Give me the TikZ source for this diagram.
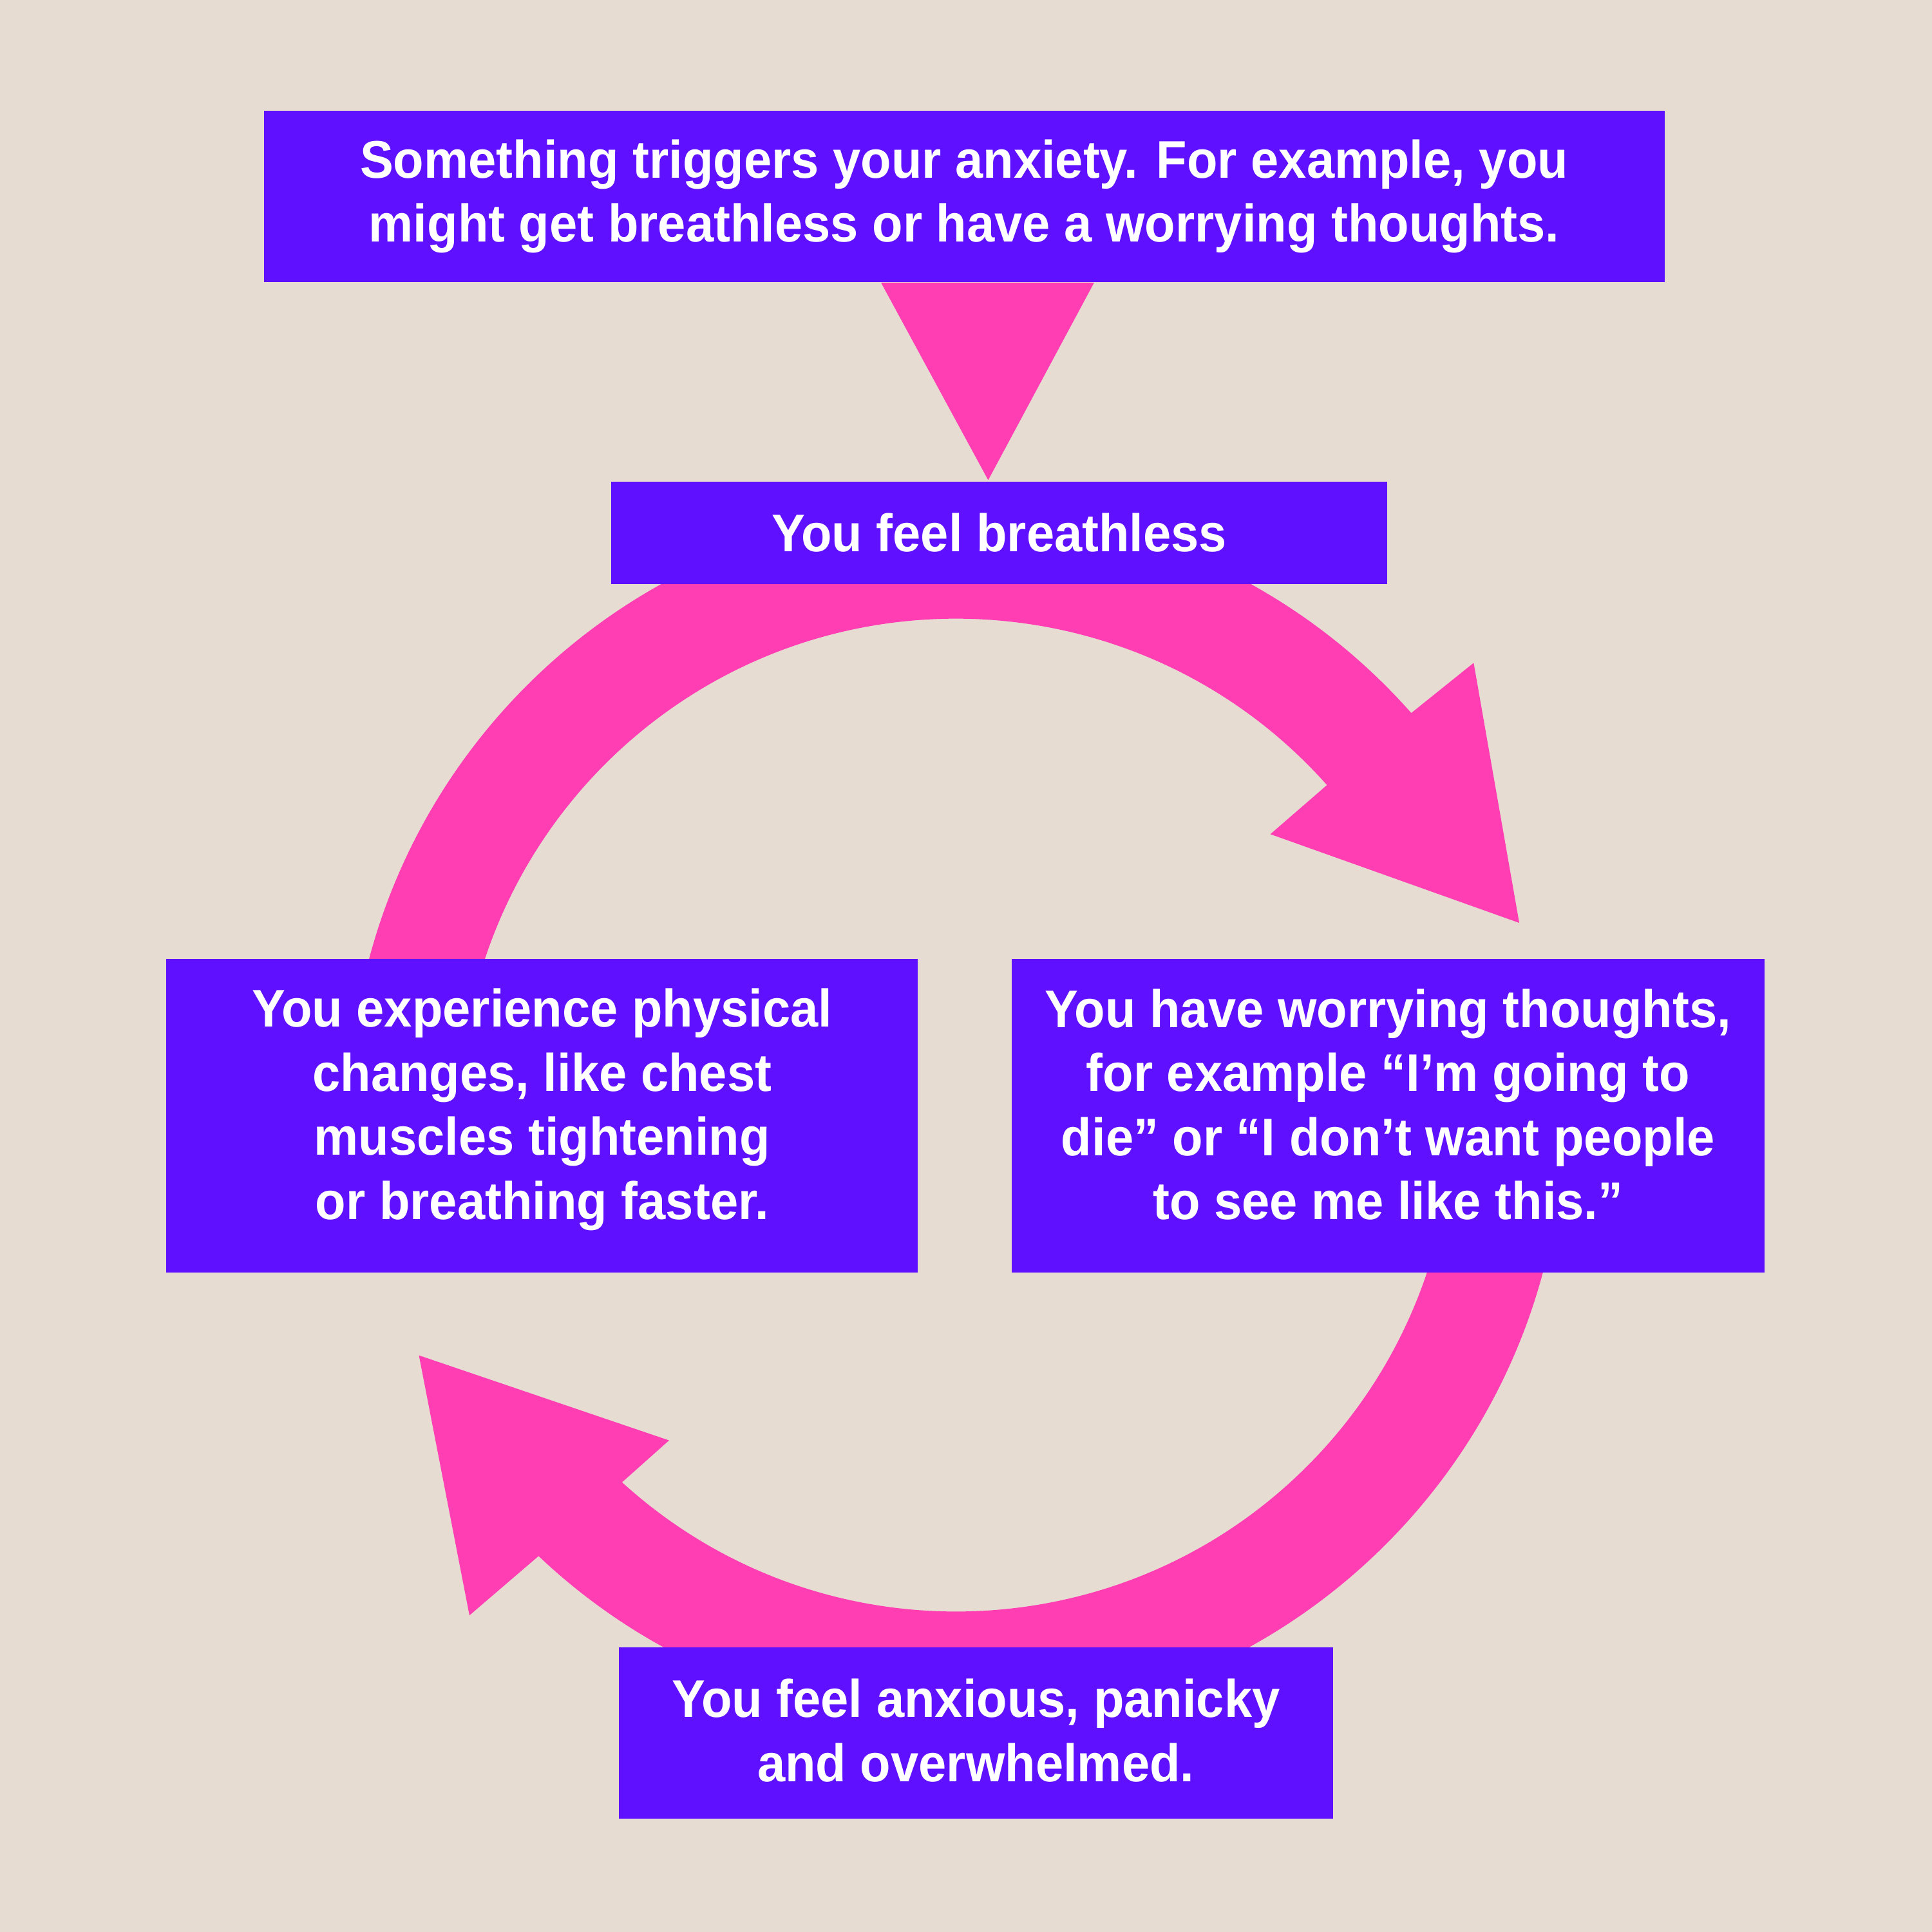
\documentclass[tikz,border=0pt]{standalone}
\usepackage{fontspec}
\newfontfamily\lblfont[FakeStretch=0.945]{Liberation Sans}
\usetikzlibrary{calc}
\definecolor{bgbeige}{HTML}{E6DCD2}
\definecolor{boxpurple}{HTML}{5E10FF}
\definecolor{ringpink}{HTML}{FF3EB4}
\tikzset{
  box/.style={fill=boxpurple, draw=none, inner sep=0pt, rectangle},
  lbl/.style={text=white, align=center, inner sep=0pt,
    font=\lblfont\bfseries\fontsize{24.47}{29.59}\selectfont},
  ringpart/.style={fill=ringpink, draw=none},
}
\begin{document}
\begin{tikzpicture}[x=0.02cm, y=0.02cm]
\fill[bgbeige] (0,0) rectangle (1568,-1568);
\useasboundingbox (0,0) rectangle (1568,-1568);
\coordinate (c) at (776,-905);
% arrowhead corners
\coordinate (rh1) at (1196,-538);
\coordinate (rtip) at (1233,-749);
\coordinate (rh2) at (1031,-677);
\coordinate (lh1) at (543,-1169);
\coordinate (ltip) at (340,-1100);
\coordinate (lh2) at (381,-1311);
% upper arrow: from left box, over the top, to right box
\fill[ringpart] ($(c)+(180:9.86cm)$) arc[start angle=180, end angle=41.46, radius=9.86cm]
  -- (rh1) -- (rtip) -- (rh2)
  -- ($(c)+(41.67:8.06cm)$) arc[start angle=41.67, end angle=180, radius=8.06cm] -- cycle;
% lower arrow: from right box, under the bottom, to left box
\fill[ringpart] ($(c)+(360:9.86cm)$) arc[start angle=360, end angle=226.56, radius=9.86cm]
  -- (lh2) -- (ltip) -- (lh1)
  -- ($(c)+(227.7:8.06cm)$) arc[start angle=227.7, end angle=360, radius=8.06cm] -- cycle;
% boxes
\node[box, minimum width=22.74cm, minimum height=2.78cm] (b1) at (782.5,-159.5) {};
\node[box, minimum width=12.6cm, minimum height=1.66cm] (b2) at (811,-432.5) {};
\node[box, minimum width=12.2cm, minimum height=5.1cm] (b3) at (440,-905.5) {};
\node[box, minimum width=12.22cm, minimum height=5.1cm] (b4) at (1126.5,-905.5) {};
\node[box, minimum width=11.6cm, minimum height=2.78cm] (b5) at (792,-1406.5) {};
% trigger triangle connector
\fill[ringpart] ($(b1.south)+(-67.5,0)$) -- ($(b1.south)+(105.5,0)$) -- ($(b2.north)+(-9,1)$) -- cycle;
% labels
\node[lbl] (t1) at (b1.center) {Something triggers your anxiety. For example, you\\might get breathless or have a worrying thoughts.};
\node[lbl] (t2) at (b2.center) {You feel breathless};
\node[lbl] (t3) at ($(b3.center)+(0,5)$) {You experience physical\\changes, like chest\\muscles tightening\\or breathing faster.};
\node[lbl] (t4) at ($(b4.center)+(0,9)$) {You have worrying thoughts,\\for example “I’m going to\\die” or “I don’t want people\\to see me like this.”};
\node[lbl] (t5) at ($(b5.center)+(0,2)$) {You feel anxious, panicky\\and overwhelmed.};
\end{tikzpicture}
\end{document}
